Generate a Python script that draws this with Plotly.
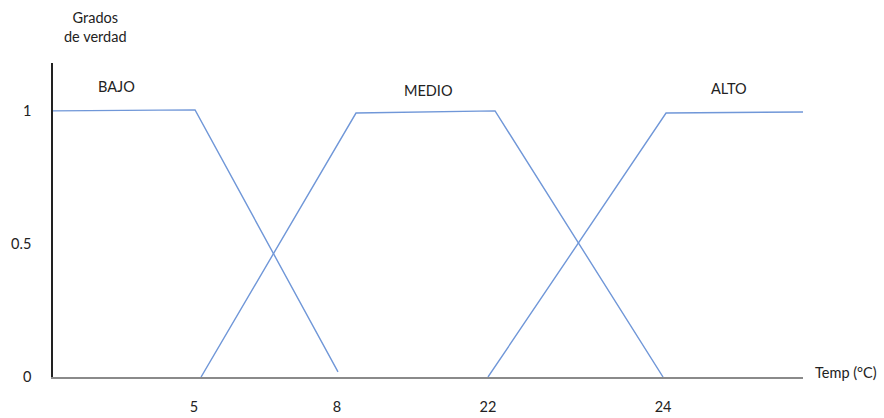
import plotly.graph_objects as go

# Funciones de pertenencia (eje x esquemático, no lineal en temperatura)
bajo_x = [0.0, 0.947, 1.9]
bajo_y = [1.0, 1.004, 0.019]

medio_x = [0.987, 2.02, 2.947, 4.067]
medio_y = [0.0, 0.992, 1.0, 0.0]

alto_x = [2.9, 4.087, 5.013]
alto_y = [0.0, 0.992, 0.996]

# Etiquetas del eje x
temp_tick_pos = [0.94, 1.893, 2.9, 4.067]
temp_tick_text = ['5', '8', '22', '24']

# Etiquetas del eje y
grado_tick_vals = [0, 0.5, 1]
grado_tick_text = ['0', '0.5', '1']

# Nombres de los conjuntos y posición de su etiqueta
conjuntos = ['BAJO', 'MEDIO', 'ALTO']
etiqueta_x = [0.42, 2.5, 4.507]
etiqueta_y = [1.09, 1.075, 1.083]

line_color = '#7097d8'
font_family = 'Lato, Open Sans, sans-serif'

fig = go.Figure()

for xs, ys in [(bajo_x, bajo_y), (medio_x, medio_y), (alto_x, alto_y)]:
    fig.add_trace(go.Scatter(
        x=xs, y=ys, mode='lines',
        line=dict(color=line_color, width=1.4),
        cliponaxis=False,
        showlegend=False,
        hoverinfo='skip'
    ))

for name, lx, ly in zip(conjuntos, etiqueta_x, etiqueta_y):
    fig.add_annotation(x=lx, y=ly, text=name, showarrow=False,
                       font=dict(size=14.5, color='#222222'))

# Títulos de los ejes como anotaciones (como en el dibujo original)
fig.add_annotation(x=0.012, y=1, xref='paper', yref='paper', yanchor='middle',
                   text='Grados<br>de verdad', showarrow=False, yshift=36,
                   font=dict(size=14.5, color='#222222'), align='center')
fig.add_annotation(x=1, y=0, xref='paper', yref='paper', xanchor='left',
                   yanchor='middle',
                   text='Temp (°C)', showarrow=False, xshift=10, yshift=5,
                   font=dict(size=14.5, color='#222222'))

fig.update_layout(
    width=884, height=418,
    margin=dict(l=53, r=81, t=63, b=41, autoexpand=False),
    paper_bgcolor='white',
    plot_bgcolor='white',
    font=dict(family=font_family, size=14.5, color='#222222'),
    xaxis=dict(
        range=[0, 5],
        tickmode='array', tickvals=temp_tick_pos, ticktext=temp_tick_text,
        showgrid=False, zeroline=False,
        showline=True, linecolor='#8a8a8a', linewidth=2,
        ticks='', ticklabelstandoff=16,
        automargin=False,
        fixedrange=True
    ),
    yaxis=dict(
        range=[0, 1.18],
        tickmode='array', tickvals=grado_tick_vals, ticktext=grado_tick_text,
        showgrid=False, zeroline=False,
        showline=True, linecolor='#222222', linewidth=1.5,
        ticks='', ticklabelstandoff=17,
        automargin=False,
        fixedrange=True
    )
)

# quitar el margen por defecto del body para que la figura ocupe la ventana
fig.write_html("out.html", config={'displayModeBar': False},
               post_script="document.body.style.margin='0';")
